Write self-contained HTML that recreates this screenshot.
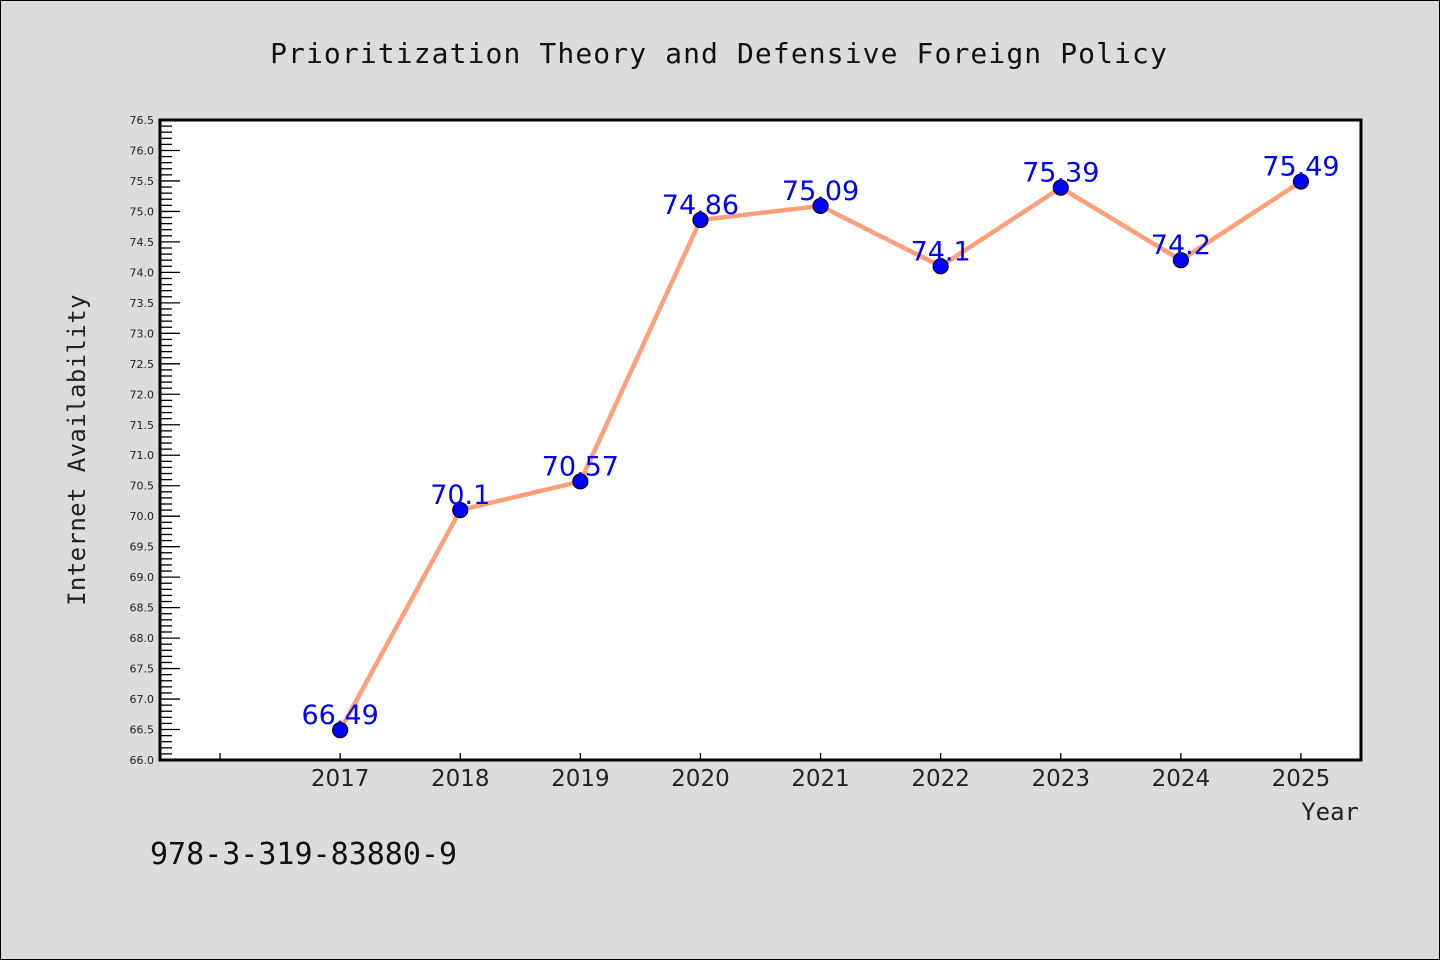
<!DOCTYPE html>
<html><head><meta charset="utf-8">
<style>
html,body{margin:0;padding:0;background:#dcdcdc;}
svg{display:block;font-family:"DejaVu Sans","Liberation Sans",sans-serif;}
</style></head>
<body>
<svg id="chart" width="1440" height="960" viewBox="0 0 1440 960" xmlns="http://www.w3.org/2000/svg">
<rect x="0.5" y="0.5" width="1439" height="959" fill="#dcdcdc" stroke="#000" stroke-width="1"/>
<text x="719" y="63" text-anchor="middle" font-size="28" letter-spacing="1.1" fill="#111" font-family="'DejaVu Sans Mono','Liberation Mono',monospace">Prioritization Theory and Defensive Foreign Policy</text>
<rect x="160" y="120" width="1201" height="640" fill="#fff"/>
<g id="ticks"></g>
<g id="series"></g>
<rect x="160" y="120" width="1201" height="640" fill="none" stroke="#000" stroke-width="3"/>
<text transform="translate(85,450) rotate(-90)" text-anchor="middle" font-size="24" letter-spacing="0.4" fill="#222" font-family="'DejaVu Sans Mono','Liberation Mono',monospace">Internet Availability</text>
<text x="1359" y="820" text-anchor="end" font-size="24" fill="#222" font-family="'DejaVu Sans Mono','Liberation Mono',monospace">Year</text>
<text x="150" y="864" font-size="30" fill="#111" font-family="'DejaVu Sans Mono','Liberation Mono',monospace">978-3-319-83880-9</text>
</svg>
<script>
const years = [2017,2018,2019,2020,2021,2022,2023,2024,2025];
const values = [66.49,70.1,70.57,74.86,75.09,74.1,75.39,74.2,75.49];
const valueLabels = ["66.49","70.1","70.57","74.86","75.09","74.1","75.39","74.2","75.49"];
const yTickLabels = ["66.0","66.5","67.0","67.5","68.0","68.5","69.0","69.5","70.0","70.5","71.0","71.5","72.0","72.5","73.0","73.5","74.0","74.5","75.0","75.5","76.0","76.5"];

const X0=160,X1=1361,Y0=760,Y1=120,XMIN=2015.5,XMAX=2025.5,YMIN=66,YMAX=76.5;
function xs(v){return X0+(v-XMIN)/(XMAX-XMIN)*(X1-X0);}
function ys(v){return Y0-(v-YMIN)/(YMAX-YMIN)*(Y0-Y1);}
const NS="http://www.w3.org/2000/svg";
function mk(t,a,p){const e=document.createElementNS(NS,t);for(const k in a)e.setAttribute(k,a[k]);p.appendChild(e);return e;}
const tk=document.getElementById('ticks'), sr=document.getElementById('series');

for(let i=0;i<=105;i++){
  const v=YMIN+i*0.1, y=ys(v), major=i%5===0;
  const l=mk('line',{x1:X0,x2:X0+(major?20:12),y1:y,y2:y,stroke:'#000','stroke-width':1.3},tk);
  
  
}
yTickLabels.forEach(s=>{
  const t=mk('text',{x:X0-6,y:ys(parseFloat(s))+4,'text-anchor':'end','font-size':11,fill:'#222'},tk);
  t.textContent=s;
  
  
});
const xt=[2016].concat(years);
xt.forEach(v=>{
  const l=mk('line',{x1:xs(v),x2:xs(v),y1:Y0,y2:Y0-7,stroke:'#000','stroke-width':1.3},tk);
  
  
});
years.forEach(v=>{
  const t=mk('text',{x:xs(v),y:Y0+26,'text-anchor':'middle','font-size':23,fill:'#222'},tk);
  t.textContent=String(v);
  
  
});
const pts=years.map((y,i)=>xs(y)+','+ys(values[i])).join(' ');
const pl=mk('polyline',{points:pts,fill:'none',stroke:'#ffa07a','stroke-width':4.5,'stroke-linejoin':'round'},sr);


years.forEach((y,i)=>{
  const c=mk('circle',{cx:xs(y),cy:ys(values[i]),r:7.5,fill:'#0000ff',stroke:'#000','stroke-width':1.2},sr);
  
  
  const t=mk('text',{x:xs(y),y:ys(values[i])-6,'text-anchor':'middle','font-size':27,fill:'#0000ff'},sr);
  t.textContent=valueLabels[i];
  
  
});
</script>
</body></html>
